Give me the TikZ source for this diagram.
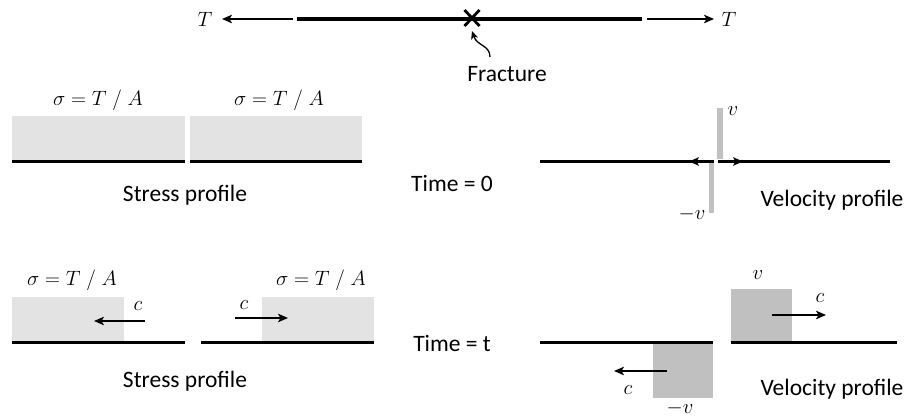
\documentclass[tikz,border=0pt]{standalone}
\usepackage{fontspec}
\setmainfont{Carlito}
\usetikzlibrary{arrows.meta}
\definecolor{lgray}{HTML}{E3E3E3}
\definecolor{mgray}{HTML}{C0C0C0}
\begin{document}
\begin{tikzpicture}[x=1pt,y=-1pt,
  bar/.style={line width=3.6pt},
  arr/.style={line width=1.4pt,-{Stealth[length=10pt,width=8.5pt,inset=2.5pt]}},
  lbl/.style={font=\fontsize{23.5}{27}\selectfont, inner sep=0pt},
  mth/.style={font=\fontsize{19.5}{23}\selectfont, inner sep=0pt}]
\useasboundingbox (0,0) rectangle (918,419);

% ---------- top bar ----------
\node[mth] (TL) at (205,19) {$T$};
\node[mth] (TR) at (729,19) {$T$};
\coordinate (la0) at (293,19); \coordinate (la1) at (222,19);
\coordinate (ra0) at (647,19); \coordinate (ra1) at (714,19);
\coordinate (b0) at (297,19); \coordinate (b1) at (642,19);
\coordinate (frac) at (472,18);
\draw[arr] (la0) -- (la1);
\draw[arr] (ra0) -- (ra1);
\draw[bar] (b0) -- (b1);
\draw[line width=2.8pt] ([shift={(-7.5,-8)}]frac) -- ([shift={(7.5,8)}]frac)
                        ([shift={(-7.5,8)}]frac) -- ([shift={(7.5,-8)}]frac);
\node[lbl] (ftext) at (507,74) {Fracture};
\coordinate (ft) at (490,57);
\coordinate (fh) at (472,31);
\draw[line width=1.3pt,-{Stealth[length=8pt,width=7pt,inset=2pt]}] (ft) .. controls (490,45) and (477,46) .. (fh);

% ---------- time 0 : stress ----------
\fill[lgray] (12,116) rectangle (185,160);
\fill[lgray] (190,116) rectangle (362,160);
\coordinate (s0a) at (12,161.5); \coordinate (s0b) at (185,161.5);
\coordinate (s0c) at (190,161.5); \coordinate (s0d) at (362,161.5);
\draw[bar] (s0a) -- (s0b);
\draw[bar] (s0c) -- (s0d);
\node[mth] (sig1) at (98,100) {$\sigma = T\;/\;A$};
\node[mth] (sig2) at (279,100) {$\sigma = T\;/\;A$};
\node[lbl] (sp1) at (185,195) {Stress profile};
\node[lbl] (time0) at (452,183) {Time = 0};

% ---------- time 0 : velocity ----------
\fill[mgray] (717,108) rectangle (723,159);
\fill[mgray] (708.5,163) rectangle (714,213);
\coordinate (v0a) at (540,161.5); \coordinate (v0b) at (714,161.5);
\coordinate (v0c) at (718,161.5); \coordinate (v0d) at (890,161.5);
\draw[bar] (v0a) -- (v0b);
\draw[bar] (v0c) -- (v0d);
\coordinate (v0l) at (689,161.5); \coordinate (v0r) at (743,161.5);
\draw[arr] (v0b) -- (v0l);
\draw[arr] (v0c) -- (v0r);
\node[mth] (v0p) at (733,111) {$v$};
\node[mth] (v0m) at (692,214) {$-v$};
\node[lbl] (vp1) at (832,200) {Velocity profile};

% ---------- time t : stress ----------
\fill[lgray] (12,297) rectangle (124,341);
\fill[lgray] (262,297) rectangle (374,341);
\coordinate (stA) at (12,342.5); \coordinate (stB) at (185,342.5);
\coordinate (stC) at (201,342.5); \coordinate (stD) at (374,342.5);
\draw[bar] (stA) -- (stB);
\draw[bar] (stC) -- (stD);
\coordinate (cl0) at (145,321); \coordinate (cl1) at (94,321);
\coordinate (cr0) at (235,318); \coordinate (cr1) at (288,318);
\draw[arr] (cl0) -- (cl1);
\draw[arr] (cr0) -- (cr1);
\node[mth] (c1) at (138,306) {$c$};
\node[mth] (c2) at (244,305) {$c$};
\node[mth] (sig3) at (72,280) {$\sigma = T\;/\;A$};
\node[mth] (sig4) at (321,280) {$\sigma = T\;/\;A$};
\node[lbl] (sp2) at (185,381) {Stress profile};
\node[lbl] (timet) at (452,344) {Time = t};

% ---------- time t : velocity ----------
\fill[mgray] (653,344) rectangle (713,398);
\fill[mgray] (731,289) rectangle (792,341);
\coordinate (vtA) at (540,342.5); \coordinate (vtB) at (713,342.5);
\coordinate (vtC) at (731,342.5); \coordinate (vtD) at (897,342.5);
\draw[bar] (vtA) -- (vtB);
\draw[bar] (vtC) -- (vtD);
\coordinate (vl0) at (667,371); \coordinate (vl1) at (614,371);
\coordinate (vr0) at (772,315); \coordinate (vr1) at (826,315);
\draw[arr] (vl0) -- (vl1);
\draw[arr] (vr0) -- (vr1);
\node[mth] (c3) at (628,390) {$c$};
\node[mth] (c4) at (820,298) {$c$};
\node[mth] (vtm) at (680,408) {$-v$};
\node[mth] (vtp) at (758,275) {$v$};
\node[lbl] (vp2) at (832,389) {Velocity profile};
\end{tikzpicture}
\end{document}
